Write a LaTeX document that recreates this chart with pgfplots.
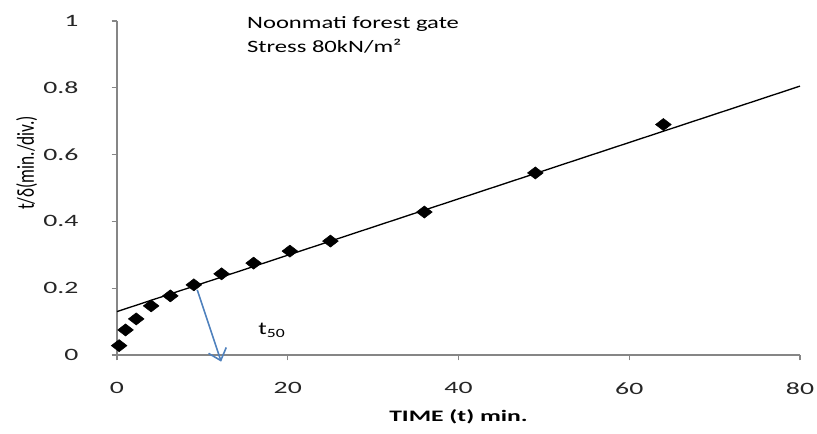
\documentclass[border=0pt]{standalone}
\usepackage{fontspec}
\setmainfont{Carlito}
\usepackage{pgfplots}
\pgfplotsset{compat=1.18}
\usetikzlibrary{arrows.meta}
\definecolor{axgray}{RGB}{134,134,134}
\definecolor{arrowblue}{RGB}{79,129,189}
\begin{document}
\begin{tikzpicture}
\useasboundingbox (-87.75pt,-59.25pt) rectangle (525pt,266.25pt);
\begin{axis}[
  at={(0,0)}, anchor=south west,
  scale only axis,
  width=512.25pt, height=250.5pt,
  xmin=0, xmax=80, ymin=0, ymax=1,
  xtick={0,20,40,60,80},
  ytick={0,0.2,0.4,0.6,0.8,1},
  yticklabels={0,0.2,0.4,0.6,0.8,1},
  axis x line*=bottom, axis y line*=left,
  axis line style={axgray, line width=0.8pt, -},
  tick style={axgray, line width=0.8pt},
  tick align=outside,
  major tick length=4pt,
  /pgf/number format/assume math mode=true,
  tick label style={font=\fontsize{13}{15}\selectfont, text=black!85},
  xticklabel style={xscale=1.6, yshift=-13pt},
  yticklabel style={xscale=1.6, xshift=-12pt},
  xlabel={\textbf{TIME (t) min.}},
  ylabel={t/δ(min./div.)},
  xlabel style={font=\fontsize{12}{14}\selectfont, at={(axis description cs:0.5,-0.185)}, anchor=center, xscale=1.6},
  ylabel style={font=\fontsize{13}{15}\selectfont, at={(axis description cs:-0.107,0.575)}, anchor=south, yscale=1.4},
  clip=false,
]
\addplot[black, line width=1pt] coordinates {(0,0.13) (80,0.805)};
\addplot[only marks, mark=square*, mark size=3.2pt, mark options={xscale=1.3, rotate=45, fill=black, draw=black}] coordinates {
(0.25,0.028) (1,0.075) (2.25,0.108) (4,0.147) (6.25,0.177) (9,0.21)
(12.25,0.243) (16,0.275) (20.25,0.311) (25,0.341) (36,0.428) (49,0.545) (64,0.69)
};
\draw[arrowblue, line width=1.2pt, -{Straight Barb[length=8pt, width=14pt]}] (axis cs:9.4,0.195) -- (axis cs:12.2,-0.02);
\node[anchor=west, font=\fontsize{13.5}{15}\selectfont, xscale=1.4] at (axis cs:15.8,0.075) {t\textsubscript{50}};
\node[anchor=north west, align=left, font=\fontsize{13}{18.5}\selectfont, inner sep=0pt, xscale=1.42] at (axis cs:15.2,1.015) {Noonmati forest gate\\Stress 80kN/m²};
\end{axis}
\end{tikzpicture}
\end{document}
